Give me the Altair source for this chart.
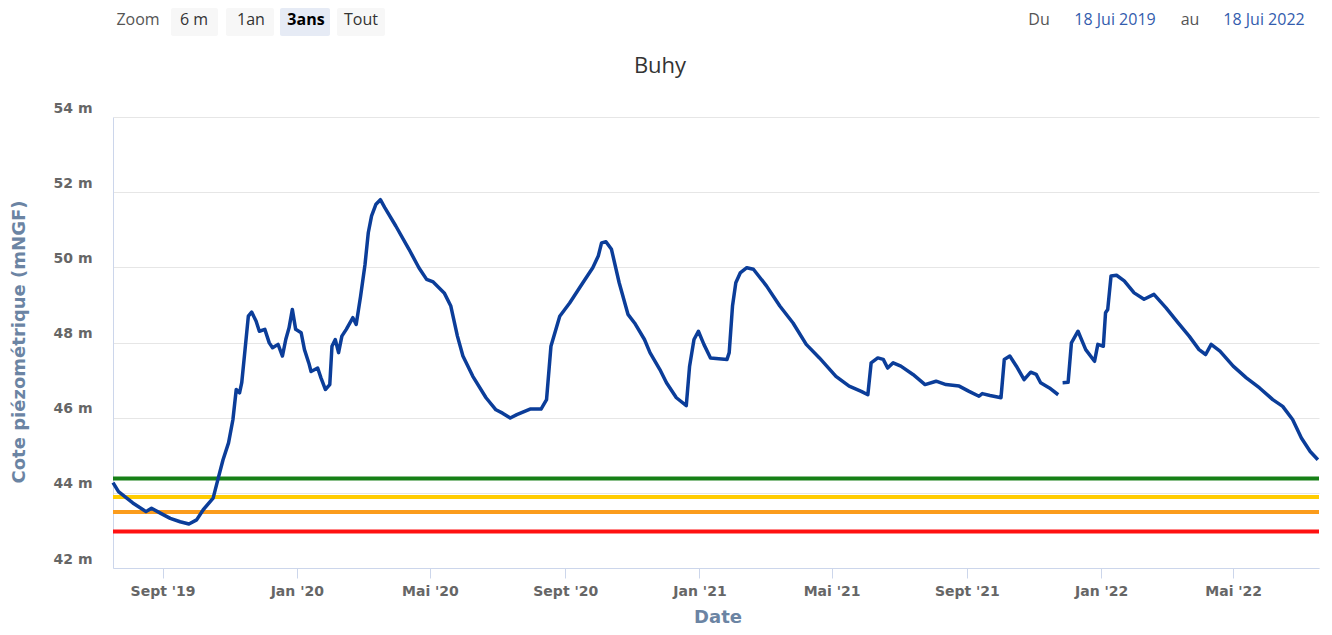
import altair as alt
import pandas as pd

# ---------------- data ----------------
dates = [
    "2019-07-18", "2019-07-23", "2019-08-05", "2019-08-17", "2019-08-22", "2019-08-30",
    "2019-09-08", "2019-09-17", "2019-09-25", "2019-10-02", "2019-10-08", "2019-10-17",
    "2019-10-22", "2019-10-26", "2019-10-31", "2019-11-04", "2019-11-07", "2019-11-10",
    "2019-11-12", "2019-11-15", "2019-11-18", "2019-11-21", "2019-11-25", "2019-11-28",
    "2019-12-03", "2019-12-07", "2019-12-10", "2019-12-15", "2019-12-19", "2019-12-22",
    "2019-12-25", "2019-12-28", "2019-12-31", "2020-01-05", "2020-01-08", "2020-01-12",
    "2020-01-14", "2020-01-20", "2020-01-23", "2020-01-27", "2020-01-31", "2020-02-02",
    "2020-02-05", "2020-02-08", "2020-02-11", "2020-02-15", "2020-02-21", "2020-02-24",
    "2020-02-28", "2020-03-03", "2020-03-06", "2020-03-09", "2020-03-13", "2020-03-17",
    "2020-03-21", "2020-03-31", "2020-04-12", "2020-04-21", "2020-04-28", "2020-05-04",
    "2020-05-14", "2020-05-20", "2020-05-26", "2020-05-31", "2020-06-09", "2020-06-21",
    "2020-06-30", "2020-07-06", "2020-07-13", "2020-07-19", "2020-07-31", "2020-08-10",
    "2020-08-15", "2020-08-19", "2020-08-27", "2020-09-05", "2020-09-17", "2020-09-26",
    "2020-10-01", "2020-10-04", "2020-10-08", "2020-10-13", "2020-10-20", "2020-10-28",
    "2020-11-03", "2020-11-12", "2020-11-17", "2020-11-26", "2020-12-02", "2020-12-11",
    "2020-12-20", "2020-12-23", "2020-12-27", "2020-12-31", "2021-01-05", "2021-01-11",
    "2021-01-26", "2021-01-28", "2021-01-31", "2021-02-03", "2021-02-07", "2021-02-13",
    "2021-02-19", "2021-03-03", "2021-03-15", "2021-03-27", "2021-04-08", "2021-04-20",
    "2021-05-05", "2021-05-17", "2021-05-28", "2021-06-03", "2021-06-06", "2021-06-12",
    "2021-06-17", "2021-06-21", "2021-06-26", "2021-07-03", "2021-07-14", "2021-07-25",
    "2021-08-04", "2021-08-13", "2021-08-25", "2021-09-03", "2021-09-12", "2021-09-15",
    "2021-09-22", "2021-10-02", "2021-10-05", "2021-10-10", "2021-10-16", "2021-10-23",
    "2021-10-29", "2021-11-03", "2021-11-07", "2021-11-15", "2021-11-23",
    "2021-11-27", "2021-12-02", "2021-12-05", "2021-12-11", "2021-12-18", "2021-12-26",
    "2021-12-29", "2022-01-03", "2022-01-05", "2022-01-07", "2022-01-10", "2022-01-15",
    "2022-01-22", "2022-01-31", "2022-02-09", "2022-02-18", "2022-03-01", "2022-03-12",
    "2022-03-22", "2022-03-31", "2022-04-06", "2022-04-11", "2022-04-19", "2022-05-01",
    "2022-05-13", "2022-05-25", "2022-06-06", "2022-06-15", "2022-06-24", "2022-07-02",
    "2022-07-10", "2022-07-17",
]

levels = [
    44.27, 44.03, 43.73, 43.50, 43.59, 43.46,
    43.32, 43.23, 43.17, 43.28, 43.55, 43.86,
    44.43, 44.88, 45.33, 45.95, 46.75, 46.66,
    46.93, 47.81, 48.70, 48.81, 48.57, 48.30,
    48.35, 47.99, 47.86, 47.95, 47.64, 48.08,
    48.39, 48.88, 48.35, 48.26, 47.81, 47.45,
    47.23, 47.32, 47.06, 46.75, 46.88, 47.90,
    48.08, 47.73, 48.17, 48.35, 48.66, 48.48,
    49.23, 50.07, 50.92, 51.37, 51.68, 51.80,
    51.59, 51.10, 50.48, 49.99, 49.68, 49.61,
    49.32, 48.97, 48.17, 47.64, 47.10, 46.53,
    46.21, 46.12, 45.99, 46.08, 46.23, 46.23,
    46.48, 47.90, 48.70, 49.05, 49.59, 49.99,
    50.30, 50.65, 50.68, 50.48, 49.59, 48.75,
    48.52, 48.08, 47.73, 47.28, 46.93, 46.53,
    46.32, 47.37, 48.08, 48.30, 47.95, 47.59,
    47.55, 47.73, 48.97, 49.59, 49.85, 49.99,
    49.95, 49.50, 48.97, 48.52, 47.95, 47.59,
    47.10, 46.84, 46.70, 46.61, 47.46, 47.59,
    47.55, 47.32, 47.46, 47.37, 47.15, 46.88,
    46.97, 46.88, 46.84, 46.70, 46.57, 46.64,
    46.59, 46.53, 47.55, 47.64, 47.37, 47.01,
    47.21, 47.15, 46.93, 46.79, 46.61,
    46.93, 46.94, 47.99, 48.30, 47.81, 47.50,
    47.95, 47.90, 48.79, 48.88, 49.77, 49.79,
    49.64, 49.32, 49.15, 49.28, 48.92, 48.52,
    48.17, 47.81, 47.68, 47.95, 47.77, 47.37,
    47.06, 46.79, 46.48, 46.30, 45.95, 45.46,
    45.10, 44.88,
]

# measurement gap: last date before the interruption
gap_after = "2021-11-23"

thresholds = [44.38, 43.89, 43.49, 42.97]
threshold_colors = ["#168016", "#ffcc00", "#fb9c1c", "#ff1111"]

y_ticks = [42, 44, 46, 48, 50, 52, 54]
x_tick_months = [(2019, 9), (2020, 1), (2020, 5), (2020, 9), (2021, 1),
                 (2021, 5), (2021, 9), (2022, 1), (2022, 5)]

title_text = "Buhy"
y_title = "Cote piézométrique (mNGF)"
x_title = "Date"
zoom_label = "Zoom"
zoom_buttons = ["6 m", "1an", "3ans", "Tout"]
range_words = ["Du", "au"]
range_from = "18 Jui 2019"
range_to = "18 Jui 2022"

# ---------------- chart ----------------
W, H = 1206, 451
FONT_AX = "'DejaVu Sans', Verdana, sans-serif"
FONT_UI = "'Open Sans', 'Noto Sans', sans-serif"

line_df = pd.DataFrame({
    "date": dates,
    "level": levels,
    "seg": [1 if d <= gap_after else 2 for d in dates],
})
thr_df = pd.DataFrame({"value": thresholds, "color": threshold_colors})

x_scale = alt.Scale(domain=[alt.DateTime(year=2019, month=7, date=18, utc=True),
                            alt.DateTime(year=2022, month=7, date=18, utc=True)])
y_scale = alt.Scale(domain=[42, 54], nice=False, zero=False)

x_axis = alt.Axis(
    values=[alt.DateTime(year=y, month=m, date=1, utc=True) for y, m in x_tick_months],
    labelExpr="(utcFormat(datum.value, '%m') == '01' ? 'Jan' : utcFormat(datum.value, '%m') == '05' ? 'Mai' : 'Sept') + \" '\" + utcFormat(datum.value, '%y')",
    title=None, grid=False, domainColor="#ccd6eb", domainWidth=1,
    tickColor="#ccd6eb", tickSize=10, labelPadding=6,
    labelFontSize=14, labelFontWeight="bold", labelColor="#666666", labelFont=FONT_AX,
)
y_axis = alt.Axis(
    values=y_ticks, labelExpr="datum.value + ' m'", title=None,
    grid=True, gridColor="#e6e6e6", gridWidth=1,
    domain=True, domainColor="#ccd6eb", ticks=False,
    labelPadding=21, labelOffset=-9,
    labelFontSize=14, labelFontWeight="bold", labelColor="#666666", labelFont=FONT_AX,
)

rules = alt.Chart(thr_df).mark_rule(strokeWidth=4).encode(
    y=alt.Y("value:Q", scale=y_scale, axis=y_axis),
    color=alt.Color("color:N", scale=None),
)

line = alt.Chart(line_df).mark_line(color="#0b3d99", strokeWidth=3.5, strokeJoin="round").encode(
    x=alt.X("date:T", scale=x_scale, axis=x_axis),
    y=alt.Y("level:Q", scale=y_scale, axis=y_axis),
    detail="seg:N",
)


def txt(s, x, y, size=14, color="#333333", weight="normal", font=FONT_UI, angle=0, align="center"):
    return alt.Chart(pd.DataFrame({"t": [s]})).mark_text(
        fontSize=size, color=color, fontWeight=weight, font=font, angle=angle,
        align=align, baseline="middle",
    ).encode(text="t:N", x=alt.value(x), y=alt.value(y))


def box(x1, x2, y1, y2, fill):
    return alt.Chart(pd.DataFrame({"a": [0]})).mark_rect(fill=fill, cornerRadius=2).encode(
        x=alt.value(x1), x2=alt.value(x2), y=alt.value(y1), y2=alt.value(y2))


deco = [
    txt(title_text, 547, -51, size=22, color="#333333"),
    txt(x_title, 605, 501, size=18, color="#6b84a3", weight="bold", font=FONT_AX),
    txt(y_title, -93, 225, size=18, color="#6b84a3", weight="bold", font=FONT_AX, angle=270),
    txt(zoom_label, 25, -97, size=16, color="#555555"),
    box(58, 105, -109, -81, "#f7f7f7"),
    box(113, 161, -109, -81, "#f7f7f7"),
    box(167, 217, -109, -81, "#e6ebf5"),
    box(224, 272, -109, -81, "#f7f7f7"),
    txt(zoom_buttons[0], 81, -97, size=16, color="#333333"),
    txt(zoom_buttons[1], 138, -97, size=16, color="#333333"),
    txt(zoom_buttons[2], 193, -97, size=16, color="#000000", weight="bold"),
    txt(zoom_buttons[3], 248, -97, size=16, color="#333333"),
    txt(range_words[0], 926, -97, size=16, color="#555555"),
    txt(range_from, 1002, -97, size=16, color="#335cad"),
    txt(range_words[1], 1077, -97, size=16, color="#555555"),
    txt(range_to, 1151, -97, size=16, color="#335cad"),
]

chart = alt.layer(rules, line, *deco).properties(
    width=W, height=H,
    padding={"left": 105, "top": 109, "right": 5, "bottom": 59},
    autosize=alt.AutoSizeParams(type="none"),
).configure_view(strokeWidth=0)

chart.save("out.html", embed_options={"renderer": "svg", "actions": False})
